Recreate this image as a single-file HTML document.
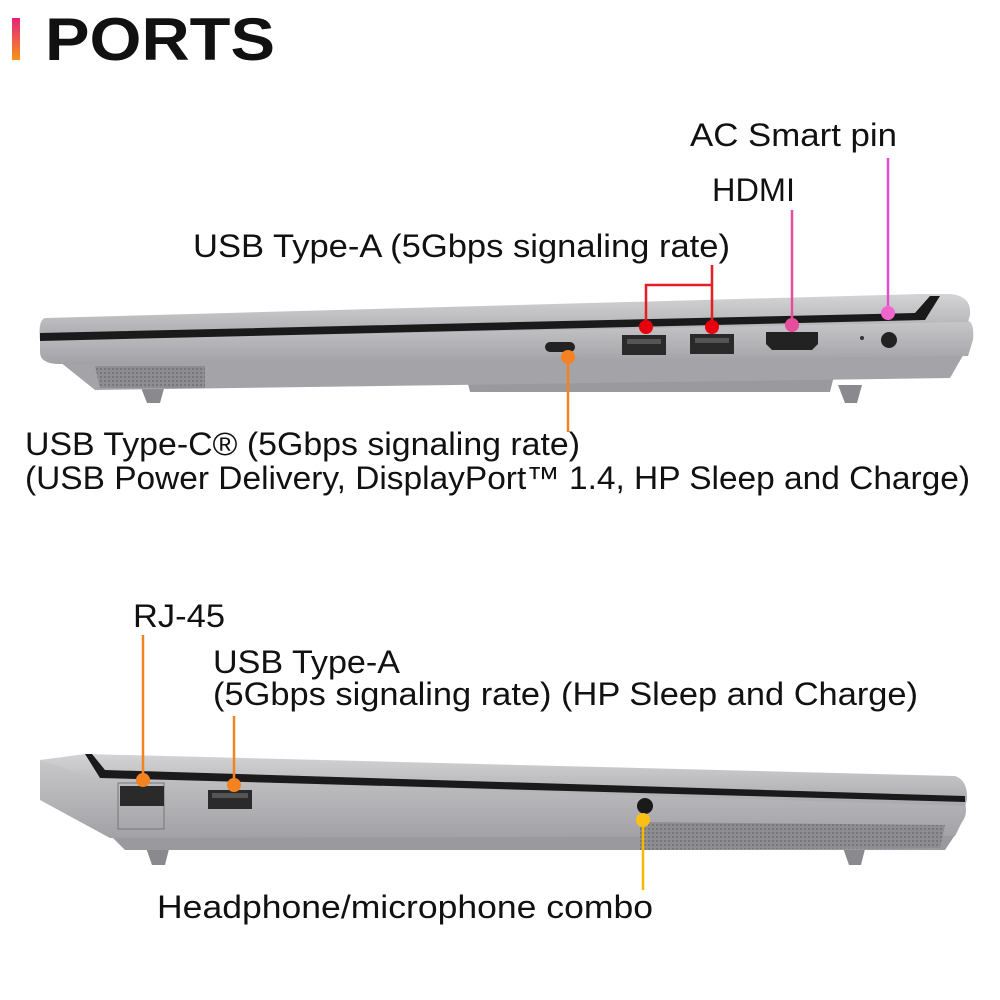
<!DOCTYPE html>
<html><head><meta charset="utf-8"><style>
html,body{margin:0;padding:0;background:#fff;}
svg{display:block}
text{font-family:"Liberation Sans",sans-serif;fill:#111;}
</style></head><body>
<svg width="1000" height="1000" viewBox="0 0 1000 1000" xmlns="http://www.w3.org/2000/svg">
<defs>
<linearGradient id="bar" x1="0" y1="0" x2="0" y2="1"><stop offset="0" stop-color="#e8207a"/><stop offset="1" stop-color="#f7941d"/></linearGradient>
<linearGradient id="lid" x1="0" y1="0" x2="0" y2="1"><stop offset="0" stop-color="#d4d4d6"/><stop offset="1" stop-color="#a9a9ad"/></linearGradient>
<linearGradient id="base" x1="0" y1="0" x2="0" y2="1"><stop offset="0" stop-color="#c8c8cb"/><stop offset="1" stop-color="#a2a2a6"/></linearGradient>
<pattern id="mesh" width="4" height="4" patternUnits="userSpaceOnUse"><rect width="4" height="4" fill="#8e8e92"/><rect width="2" height="2" fill="#77777b"/></pattern>
</defs>
<rect x="12" y="18" width="8" height="42" fill="url(#bar)"/>
<text x="45" y="60" font-size="60" font-weight="bold" fill="#000" textLength="230" lengthAdjust="spacingAndGlyphs">PORTS</text>

<!-- Top laptop -->
<polygon points="140,385 165,385 160,403 147,403" fill="#8a8a8e"/>
<polygon points="838,385 862,385 857,403 845,403" fill="#8a8a8e"/>
<polygon points="465,372 835,372 830,392 470,392" fill="#9a9a9e"/>
<polygon points="60,362 965,352 950,378 95,390" fill="#a4a4a8"/>
<polygon points="95,366 205,366 205,388 100,388" fill="url(#mesh)"/>
<path d="M40,340 L965,320 Q975,320 973,340 L968,356 L60,364 Q40,364 40,352 Z" fill="url(#base)"/>
<path d="M45,318 L920,294 L950,294 Q972,296 970,315 L968,322 L40,340 Q38,320 45,318 Z" fill="url(#lid)"/>
<polygon points="40,333 915,313 930,296 940,296 925,320 40,341" fill="#1a1a1a"/>
<rect x="545" y="342" width="30" height="10" rx="5" fill="#222"/>
<rect x="622" y="335" width="44" height="20" fill="#2a2a2a"/><rect x="627" y="339" width="34" height="5" fill="#555"/>
<rect x="690" y="334" width="44" height="20" fill="#2a2a2a"/><rect x="695" y="338" width="34" height="5" fill="#555"/>
<polygon points="766,332 818,332 818,344 812,350 772,350 766,344" fill="#222"/>
<circle cx="889" cy="340" r="8" fill="#222"/><circle cx="862" cy="338" r="2" fill="#333"/>
<path d="M646,327 V285 H712 V327 M712,285 V265" stroke="#e31e24" stroke-width="2.5" fill="none"/>
<circle cx="646" cy="327" r="7" fill="#e8000f"/><circle cx="712" cy="327" r="7" fill="#e8000f"/>
<line x1="792" y1="325" x2="792" y2="210" stroke="#e64d9a" stroke-width="2.5"/>
<circle cx="792" cy="325" r="7" fill="#e64d9a"/>
<line x1="888" y1="313" x2="888" y2="158" stroke="#e64dc8" stroke-width="2.5"/>
<circle cx="888" cy="313" r="7" fill="#ee66cc"/>
<line x1="568" y1="357" x2="568" y2="432" stroke="#f58220" stroke-width="2.5"/>
<circle cx="568" cy="357" r="7" fill="#f58220"/>

<g font-size="32" lengthAdjust="spacingAndGlyphs">
<text x="690" y="146" textLength="207" lengthAdjust="spacingAndGlyphs">AC Smart pin</text>
<text x="712" y="201" textLength="83" lengthAdjust="spacingAndGlyphs">HDMI</text>
<text x="193" y="257" textLength="537" lengthAdjust="spacingAndGlyphs">USB Type-A (5Gbps signaling rate)</text>
<text x="25" y="455" textLength="555" lengthAdjust="spacingAndGlyphs">USB Type-C® (5Gbps signaling rate)</text>
<text x="25" y="489" textLength="945" lengthAdjust="spacingAndGlyphs">(USB Power Delivery, DisplayPort™ 1.4, HP Sleep and Charge)</text>
<text x="133" y="627" textLength="92" lengthAdjust="spacingAndGlyphs">RJ-45</text>
<text x="213" y="673" textLength="187" lengthAdjust="spacingAndGlyphs">USB Type-A</text>
<text x="213" y="705" textLength="705" lengthAdjust="spacingAndGlyphs">(5Gbps signaling rate) (HP Sleep and Charge)</text>
<text x="157" y="918" textLength="496" lengthAdjust="spacingAndGlyphs">Headphone/microphone combo</text>
</g>

<!-- Bottom laptop -->
<polygon points="145,845 170,845 165,865 152,865" fill="#8a8a8e"/>
<polygon points="842,845 866,845 861,865 849,865" fill="#8a8a8e"/>
<polygon points="110,835 955,835 945,850 125,850" fill="#9a9a9e"/>
<path d="M40,760 L95,770 L965,802 Q968,815 962,822 L955,836 L110,838 L40,800 Z" fill="url(#base)"/>
<polygon points="640,822 945,825 940,848 640,850" fill="url(#mesh)"/>
<path d="M40,760 L85,754 L955,776 Q968,780 967,800 L965,806 L95,778 Z" fill="url(#lid)"/>
<polygon points="85,754 92,754 105,770 965,796 965,802 100,778" fill="#1a1a1a"/>
<rect x="118" y="783" width="46" height="46" fill="none" stroke="#777" stroke-width="1"/>
<rect x="120" y="786" width="44" height="20" fill="#2a2a2a"/>
<rect x="208" y="790" width="44" height="19" fill="#2a2a2a"/><rect x="212" y="793" width="36" height="5" fill="#555"/>
<circle cx="645" cy="806" r="8" fill="#1a1a1a"/>
<line x1="143" y1="780" x2="143" y2="635" stroke="#f58220" stroke-width="2.5"/>
<circle cx="143" cy="780" r="7" fill="#f58220"/>
<line x1="234" y1="785" x2="234" y2="716" stroke="#f58220" stroke-width="2.5"/>
<circle cx="234" cy="785" r="7" fill="#f58220"/>
<line x1="643" y1="820" x2="643" y2="890" stroke="#f5b800" stroke-width="2.5"/>
<circle cx="643" cy="820" r="7" fill="#fbbf15"/>
</svg>
</body></html>
